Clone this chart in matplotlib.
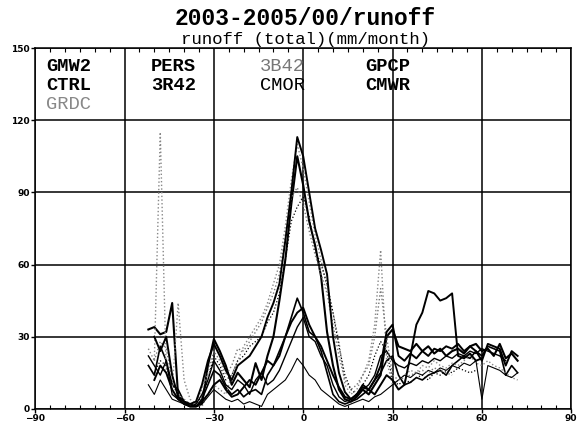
import numpy as np
import matplotlib
matplotlib.use("Agg")
import matplotlib.pyplot as plt
from matplotlib.ticker import MultipleLocator

nan = np.nan
lat = list(range(-52, 73, 2))

# series values (mm/month), one per latitude in `lat`
gmw2 = [33, 34, 31, 32, 44, 5, 3, 1, 1, 2, 18, 29, 24, 18, 10, 15, 12, 9, 19, 12, 22, 30, 45, 62, 85, 105, 93, 78, 68, 55, 32, 18, 8, 4, 3, 5, 8, 6, 10, 14, 30, 33, 26, 25, 24, 27, 24, 26, 23, 25, 22, 24, 25, 23, 26, 27, 24, 25, 22, 27, 21, 23, 20]
ctrl = [18, 14, 26, 20, 10, 8, 3, 2, 1, 4, 10, 16, 14, 9, 6, 8, 5, 7, 8, 6, 14, 18, 24, 30, 38, 46, 40, 32, 30, 24, 15, 6, 3, 2, 3, 4, 6, 8, 12, 15, 20, 22, 14, 10, 11, 13, 12, 14, 15, 16, 14, 18, 20, 22, 21, 24, 22, 26, 25, 24, 14, 18, 15]
grdc = [25, 20, 115, 15, 8, 44, 12, 4, 2, 1, 6, 10, 8, 6, 14, 20, 26, 30, 34, 38, 44, 52, 60, 76, 95, 110, 100, 86, 72, 62, 50, 40, 28, 10, 6, 8, 14, 20, 35, 66, 20, 10, 12, 14, 16, 15, 18, 17, 20, 18, 17, 19, 18, 20, 22, 19, 18, 20, 18, 17, 15, 13, 12]
pers = [10, 6, 12, 8, 4, 3, 2, 1, 1, 2, 5, 8, 6, 4, 3, 4, 2, 3, 2, 1, 6, 8, 10, 12, 16, 21, 18, 14, 12, 8, 6, 4, 2, 1, 2, 3, 4, 3, 5, 6, 8, 10, 12, 14, 13, 15, 14, 16, 15, 17, 16, 18, 17, 19, 18, 20, 4, 18, 17, 16, 14, 13, 15]
r342 = [22, 18, 14, 20, 6, 4, 2, 1, 2, 6, 12, 20, 16, 10, 8, 12, 10, 6, 12, 15, 10, 12, 16, 22, 28, 34, 38, 30, 28, 22, 18, 10, 5, 3, 4, 6, 8, 10, 14, 22, 24, 20, 18, 17, 19, 18, 20, 19, 21, 20, 22, 21, 23, 22, 24, 23, 25, 24, 23, 22, 20, nan, nan]
b342 = [nan, 20, 28, 25, 12, 6, 4, 2, 3, 8, 15, 24, 20, 14, 18, 25, 24, 28, 32, 36, 42, 48, 56, 72, 88, 92, 85, 74, 64, 56, 48, 35, 22, 12, 8, 10, 14, 18, 30, 50, 30, 14, 12, 13, 14, 15, 16, 15, 17, 16, 15, 14, nan, nan, nan, nan, nan, nan, nan, nan, nan, nan, nan]
cmor = [nan, 15, 20, 18, 10, 6, 3, 2, 2, 5, 12, 22, 18, 12, 14, 20, 22, 26, 28, 30, 36, 40, 48, 62, 78, 84, 88, 80, 66, 60, 52, 40, 26, 14, 8, 6, 10, 14, 22, 28, 24, 12, 10, 12, 11, 13, 14, 12, 15, 14, 16, 15, 17, 16, 15, 16, nan, nan, nan, nan, nan, nan, nan]
gpcp = [nan, 30, 24, 30, 14, 5, 3, 2, 3, 10, 20, 27, 22, 16, 12, 18, 20, 22, 26, 30, 38, 44, 52, 70, 90, 113, 105, 90, 75, 66, 56, 30, 15, 7, 4, 6, 9, 8, 12, 18, 32, 35, 22, 20, 23, 21, 24, 22, 25, 24, 26, 25, 27, 24, 26, 24, 20, 27, 26, 25, 18, 24, 22]
cmwr = [nan, 12, 18, 15, 8, 4, 2, 1, 1, 3, 6, 10, 12, 8, 5, 6, 9, 12, 10, 15, 20, 18, 22, 30, 36, 40, 42, 35, 30, 26, 20, 14, 9, 5, 4, 6, 10, 8, 6, 10, 14, 12, 8, 10, 22, 35, 40, 49, 48, 45, 46, 48, 22, 21, 23, 20, 21, nan, nan, nan, nan, nan, nan]

names = ["GMW2", "CTRL", "GRDC", "PERS", "3R42", "3B42", "CMOR", "GPCP", "CMWR"]
series = [gmw2, ctrl, grdc, pers, r342, b342, cmor, gpcp, cmwr]
styles = [
    dict(color="black", lw=1.5, ls="-"),
    dict(color="black", lw=1.2, ls="-"),
    dict(color="#888888", lw=1.0, ls=":"),
    dict(color="black", lw=0.8, ls="-"),
    dict(color="black", lw=1.0, ls="-"),
    dict(color="#777777", lw=1.0, ls=":"),
    dict(color="black", lw=0.9, ls=":"),
    dict(color="black", lw=1.4, ls="-"),
    dict(color="black", lw=1.4, ls="-"),
]

fig = plt.figure(figsize=(5.77, 4.29), dpi=100)
ax = fig.add_axes([0.061, 0.047, 0.929, 0.841])

for vals, st in zip(series, styles):
    ax.plot(lat, vals, **st)

ax.set_xlim(-90, 90)
ax.set_ylim(0, 150)
ax.set_xticks(range(-90, 91, 30))
ax.set_yticks(range(0, 151, 30))
ax.xaxis.set_minor_locator(MultipleLocator(5))
ax.grid(True, which="major", color="black", lw=1.1)
for sp in ax.spines.values():
    sp.set_linewidth(1.1)
ax.tick_params(axis="both", which="major", direction="out", length=3, width=1,
               labelsize=6.5, pad=1)
ax.tick_params(axis="x", which="minor", direction="in", length=3, width=0.8,
               top=True, bottom=True)
for lab in ax.get_xticklabels() + ax.get_yticklabels():
    lab.set_fontweight("bold")

mono = "Liberation Mono"
fig.text(0.529, 0.958, "2003-2005/00/runoff", family=mono, fontweight="bold",
         fontsize=16.5, ha="center", va="center")
fig.text(0.529, 0.907, "runoff (total)(mm/month)", family=mono,
         fontsize=12.5, ha="center", va="center")

leg_pos = [(0.021, 0.950), (0.021, 0.897), (0.021, 0.844),
           (0.216, 0.950), (0.216, 0.897),
           (0.419, 0.950), (0.419, 0.897),
           (0.616, 0.950), (0.616, 0.897)]
leg_col = ["black", "black", "#888888", "black", "black", "#777777", "black", "black", "black"]
leg_w = ["bold", "bold", "normal", "bold", "bold", "normal", "normal", "bold", "bold"]
for nm, (x, y), c, w in zip(names, leg_pos, leg_col, leg_w):
    ax.text(x, y, nm, transform=ax.transAxes, family=mono, fontsize=13.5,
            fontweight=w, color=c, ha="left", va="center")

fig.savefig("out.png", dpi=100)
